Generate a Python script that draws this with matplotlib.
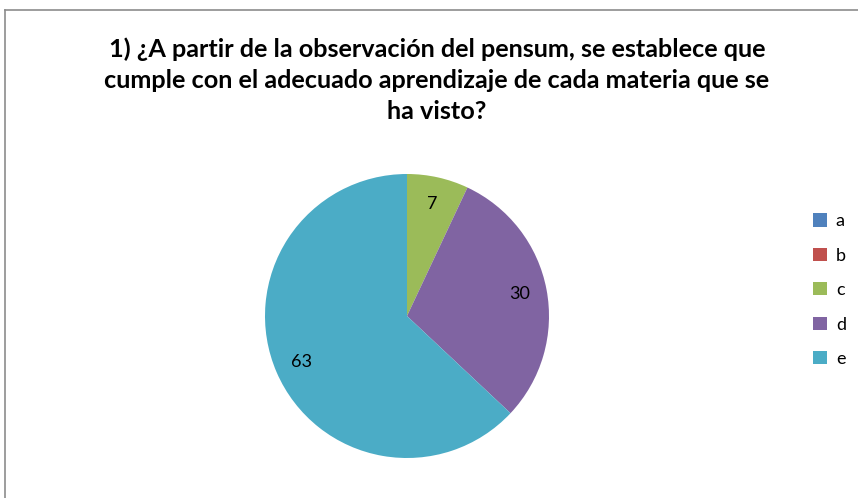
import matplotlib.pyplot as plt
from matplotlib.patches import Patch
from matplotlib.lines import Line2D

categorias = ['a', 'b', 'c', 'd', 'e']
valores = [0, 0, 7, 30, 63]
colores = ['#4F81BD', '#C0504D', '#9BBB59', '#8064A2', '#4BACC6']
titulo = ('1) ¿A partir de la observación del pensum, se establece que\n'
          'cumple con el adecuado aprendizaje de cada materia que se\n'
          'ha visto?')

plt.rcParams['font.family'] = ['Lato', 'DejaVu Sans']

W, H = 858, 498
fig = plt.figure(figsize=(W / 100, H / 100), dpi=100)

# marco del grafico (recortado a la derecha y abajo)
fig.add_artist(Line2D([5 / W, 1], [1 - 10 / H, 1 - 10 / H], color='#8c8c8c', lw=1.2))
fig.add_artist(Line2D([5 / W, 5 / W], [0, 1 - 10 / H], color='#8c8c8c', lw=1.2))

fig.text(437 / W, 1 - 80 / H, titulo, ha='center', va='center', fontsize=18.2,
         fontweight='bold', linespacing=1.42)

cx, cy, r = 407, 316, 142
ax = fig.add_axes([(cx - r) / W, (H - cy - r) / H, 2 * r / W, 2 * r / H])
total = sum(valores)

def etiqueta(pct):
    v = round(pct * total / 100)
    return str(v) if v > 0 else ''

ax.pie(valores, colors=colores, startangle=90, counterclock=False,
       autopct=etiqueta, pctdistance=0.81, textprops={'fontsize': 13, 'color': 'black'})
ax.set_xlim(-1, 1)
ax.set_ylim(-1, 1)
ax.set_aspect('equal')
ax.axis('off')

handles = [Patch(facecolor=c, edgecolor='none') for c in colores]
fig.legend(handles, categorias, loc='upper left', bbox_to_anchor=(797 / W, 1 - 197 / H),
           frameon=False, fontsize=13, handlelength=0.75, handleheight=0.75,
           handletextpad=0.5, labelspacing=1.02)

plt.savefig('out.png', dpi=100)
